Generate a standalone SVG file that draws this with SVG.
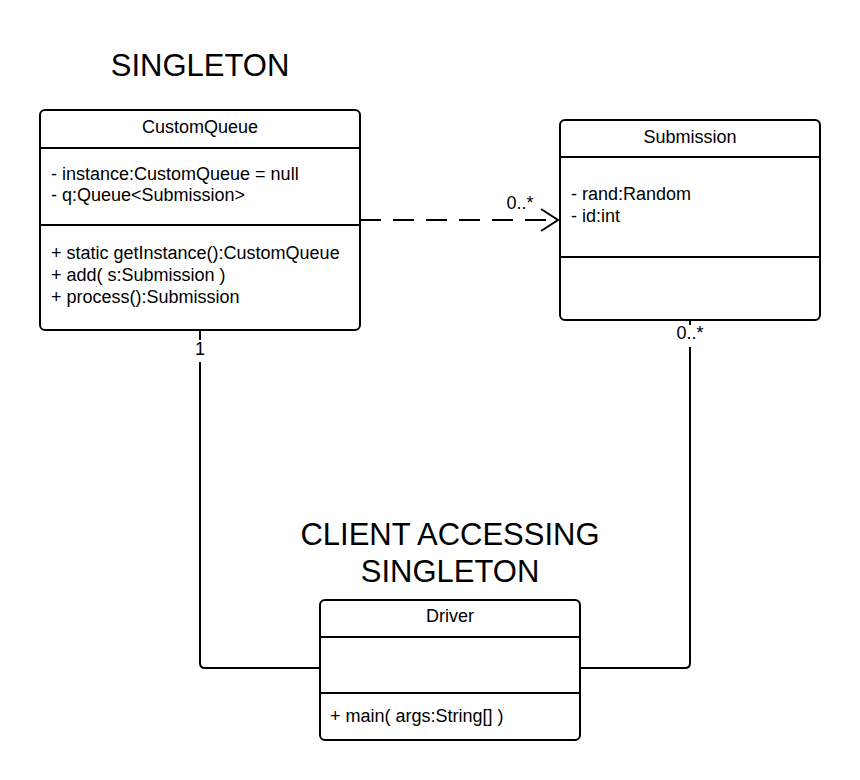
<svg xmlns="http://www.w3.org/2000/svg" width="860" height="780" viewBox="0 0 860 780">
<style>
.box{fill:#fff;stroke:#000;stroke-width:2}
.div{stroke:#000;stroke-width:2}
.t{font-family:"Liberation Sans",Arial,sans-serif;font-size:18px;fill:#000}
.c{text-anchor:middle}
.big{font-family:"Liberation Sans",Arial,sans-serif;font-size:31px;fill:#000;text-anchor:middle}
.conn{fill:none;stroke:#000;stroke-width:2}
.lbg{fill:#fff}
</style>
<defs>
<marker id="open" markerWidth="20" markerHeight="26" refX="18" refY="12" orient="auto" markerUnits="userSpaceOnUse">
<path d="M1,1 L18,12 L1,23" fill="none" stroke="#000" stroke-width="2"/>
</marker>
</defs>
<g id="titles">
<text class="big" x="200" y="76">SINGLETON</text>
<text class="big" x="450" y="545">CLIENT ACCESSING</text>
<text class="big" x="450" y="582">SINGLETON</text>
</g>
<g id="connectors">
<path class="conn" d="M200,330 V663 Q200,668 205,668 H320"/>
<path class="conn" d="M690,320 V663 Q690,668 685,668 H580"/>
<path class="conn" d="M360,220 H558" stroke-dasharray="21,12" marker-end="url(#open)"/>
<rect class="lbg" x="190" y="340" width="20" height="22"/>
<text class="t c" x="200" y="355">1</text>
<rect class="lbg" x="674" y="325" width="34" height="22"/>
<text class="t c" x="690" y="339">0..*</text>
<text class="t c" x="520" y="209">0..*</text>
</g>
<g id="CustomQueue">
<rect class="box" x="40" y="110" width="320" height="220" rx="5"/>
<line class="div" x1="40" y1="148" x2="360" y2="148"/>
<line class="div" x1="40" y1="225" x2="360" y2="225"/>
<text class="t c" x="200" y="133">CustomQueue</text>
<text class="t" x="51" y="180">- instance:CustomQueue = null</text>
<text class="t" x="51" y="201">- q:Queue&lt;Submission&gt;</text>
<text class="t" x="51" y="259">+ static getInstance():CustomQueue</text>
<text class="t" x="51" y="281">+ add( s:Submission )</text>
<text class="t" x="51" y="303">+ process():Submission</text>
</g>
<g id="Submission">
<rect class="box" x="560" y="120" width="260" height="200" rx="5"/>
<line class="div" x1="560" y1="157" x2="820" y2="157"/>
<line class="div" x1="560" y1="257" x2="820" y2="257"/>
<text class="t c" x="690" y="143">Submission</text>
<text class="t" x="571" y="200">- rand:Random</text>
<text class="t" x="571" y="222">- id:int</text>
</g>
<g id="Driver">
<rect class="box" x="320" y="600" width="260" height="140" rx="5"/>
<line class="div" x1="320" y1="637" x2="580" y2="637"/>
<line class="div" x1="320" y1="693" x2="580" y2="693"/>
<text class="t c" x="450" y="622">Driver</text>
<text class="t" x="330" y="722">+ main( args:String[] )</text>
</g>
</svg>
